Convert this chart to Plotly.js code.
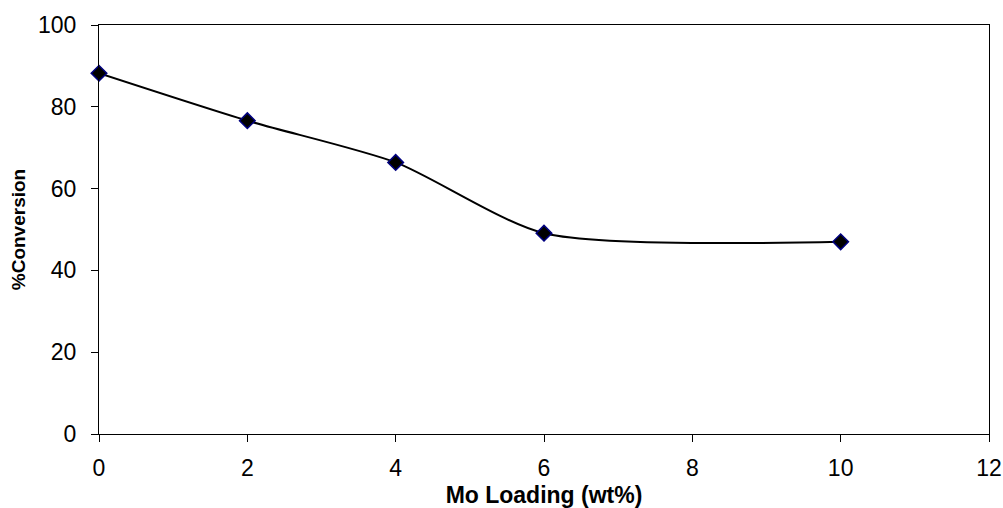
<!DOCTYPE html>
<html><head><meta charset="utf-8">
<script src="https://cdn.plot.ly/plotly-3.0.1.min.js"></script>
<style>html,body{margin:0;padding:0;background:#fff}#c{width:1003px;height:508px}</style>
</head><body><div id="c"></div>
<script>
const moLoading = [0, 2, 4, 6, 10];
const conversion = [88.2, 76.6, 66.4, 49.1, 47.0];
const xTicks = [0, 2, 4, 6, 8, 10, 12];
const yTicks = [0, 20, 40, 60, 80, 100];

const font = 'Liberation Sans, Arial, sans-serif';
Plotly.newPlot('c', [{
  x: moLoading, y: conversion, type: 'scatter', mode: 'lines+markers',
  line: {color: '#000', width: 2, shape: 'spline', smoothing: 0.7},
  marker: {symbol: 'diamond', size: 12, color: '#000', line: {color: '#000080', width: 1.5}},
  cliponaxis: false, showlegend: false
}], {
  width: 1003, height: 508,
  margin: {l: 99, r: 14, t: 25, b: 74},
  paper_bgcolor: '#fff', plot_bgcolor: '#fff',
  font: {family: font, size: 22, color: '#000'},
  xaxis: {range: [0, 12], tickvals: xTicks, ticks: 'outside', ticklen: 7, tickcolor: '#000',
    ticklabelstandoff: 6,
    showline: true, linecolor: '#000', linewidth: 1, mirror: true, showgrid: false, zeroline: false,
    tickfont: {size: 23}, title: {text: '<b>Mo Loading (wt%)</b>', font: {size: 23}, standoff: 9}},
  yaxis: {range: [0, 100], tickvals: yTicks, ticks: 'outside', ticklen: 7, tickcolor: '#000',
    ticklabelstandoff: 10,
    showline: true, linecolor: '#000', linewidth: 1, mirror: true, showgrid: false, zeroline: false,
    tickfont: {size: 23}, title: {text: '<b>%Conversion</b>', font: {size: 19}, standoff: 7}}
}, {displayModeBar: false, staticPlot: true});
</script></body></html>
